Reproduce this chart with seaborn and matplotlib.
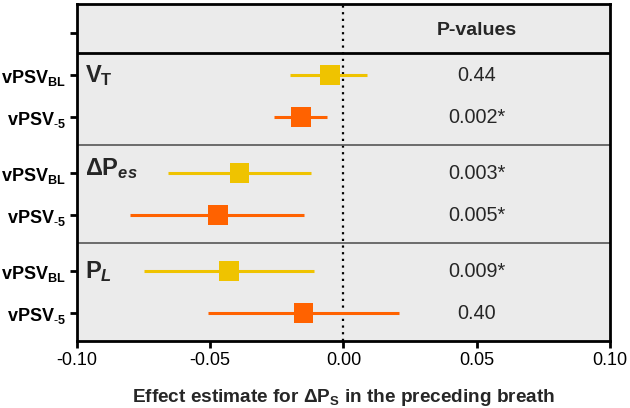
import matplotlib
matplotlib.use("Agg")
import matplotlib.pyplot as plt
import seaborn as sns
import pandas as pd

# data
groups = ["V$_\\mathbf{T}$", "$\\mathbf{\\Delta}$P$_{\\mathbfit{es}}$", "P$_{\\mathbfit{L}}$"]
settings = ["vPSV$_\\mathbf{BL}$", "vPSV$_\\mathbf{\\text{-}5}$"]
estimate = [-0.005, -0.016, -0.039, -0.047, -0.043, -0.015]
ci_low = [-0.020, -0.026, -0.066, -0.080, -0.075, -0.051]
ci_high = [0.009, -0.006, -0.012, -0.015, -0.011, 0.021]
p_values = ["0.44", "0.002*", "0.003*", "0.005*", "0.009*", "0.40"]

colors = {"BL": "#EFC300", "-5": "#FF6200"}

sns.set_theme(style="ticks")
plt.rcParams["font.family"] = ["Liberation Sans", "DejaVu Sans"]
plt.rcParams["mathtext.fontset"] = "custom"
plt.rcParams["mathtext.rm"] = "Liberation Sans"
plt.rcParams["mathtext.it"] = "Liberation Sans:italic"
plt.rcParams["mathtext.bf"] = "Liberation Sans:bold"
plt.rcParams["mathtext.bfit"] = "Liberation Sans:bold:italic"

# row positions: two rows per group, wider gap between groups
gap = 56 / 42
ypos = []
for g in range(len(groups)):
    for r in range(len(settings)):
        ypos.append(g * (1 + gap) + r)

df = pd.DataFrame({
    "y": ypos,
    "est": estimate,
    "lo": ci_low,
    "hi": ci_high,
    "setting": ["BL", "-5"] * len(groups),
    "p": p_values,
})

fig = plt.figure(figsize=(6.3, 4.08), dpi=100)
ax = fig.add_axes([0.1222, 0.164, 0.846, 0.826])
ax.set_facecolor("#EBEBEB")

for _, row in df.iterrows():
    ax.hlines(row["y"], row["lo"], row["hi"], color=colors[row["setting"]], lw=2.2, zorder=2)
sns.scatterplot(data=df, x="est", y="y", hue="setting", palette=colors, marker="s",
                s=200, linewidth=0, legend=False, ax=ax, zorder=3)

ax.axvline(0, color="black", ls=(0, (1, 2)), lw=1.6, zorder=1)

header_y = -1.0
ax.set_ylim(6.33, -1.69)
ax.set_xlim(-0.10, 0.10)

# section separators
ax.axhline(-0.524, color="black", lw=2)
for g in range(1, len(groups)):
    ax.axhline(ypos[2 * g] - gap / 2, color="#555555", lw=1.2)

# group labels
label_off = [0.0, -0.1, 0.0]
for g, name in enumerate(groups):
    ax.text(-0.097, ypos[2 * g] + label_off[g], name, fontsize=17, fontweight="bold",
            va="center", ha="left")

# p-values column
ax.text(0.05, -1.05, "P-values", fontsize=14, fontweight="bold", ha="center", va="center")
for _, row in df.iterrows():
    ax.text(0.05, row["y"], row["p"], fontsize=14.3, ha="center", va="center")

ax.set_yticks([header_y] + ypos)
ax.set_yticklabels([""] + settings * len(groups), fontsize=13, fontweight="bold")
ax.set_xticks([-0.10, -0.05, 0.00, 0.05, 0.10])
ax.set_xticklabels(["-0.10", "-0.05", "0.00", "0.05", "0.10"], fontsize=13)
ax.tick_params(axis="both", direction="out", width=2, length=5, colors="black", pad=3)
for s in ax.spines.values():
    s.set_linewidth(2)
    s.set_color("black")

ax.set_xlabel("Effect estimate for $\\mathbf{\\Delta}$P$_\\mathbf{S}$ in the preceding breath",
              fontsize=13.7, fontweight="bold", labelpad=13)
ax.set_ylabel("")

fig.savefig("out.png", dpi=100)
